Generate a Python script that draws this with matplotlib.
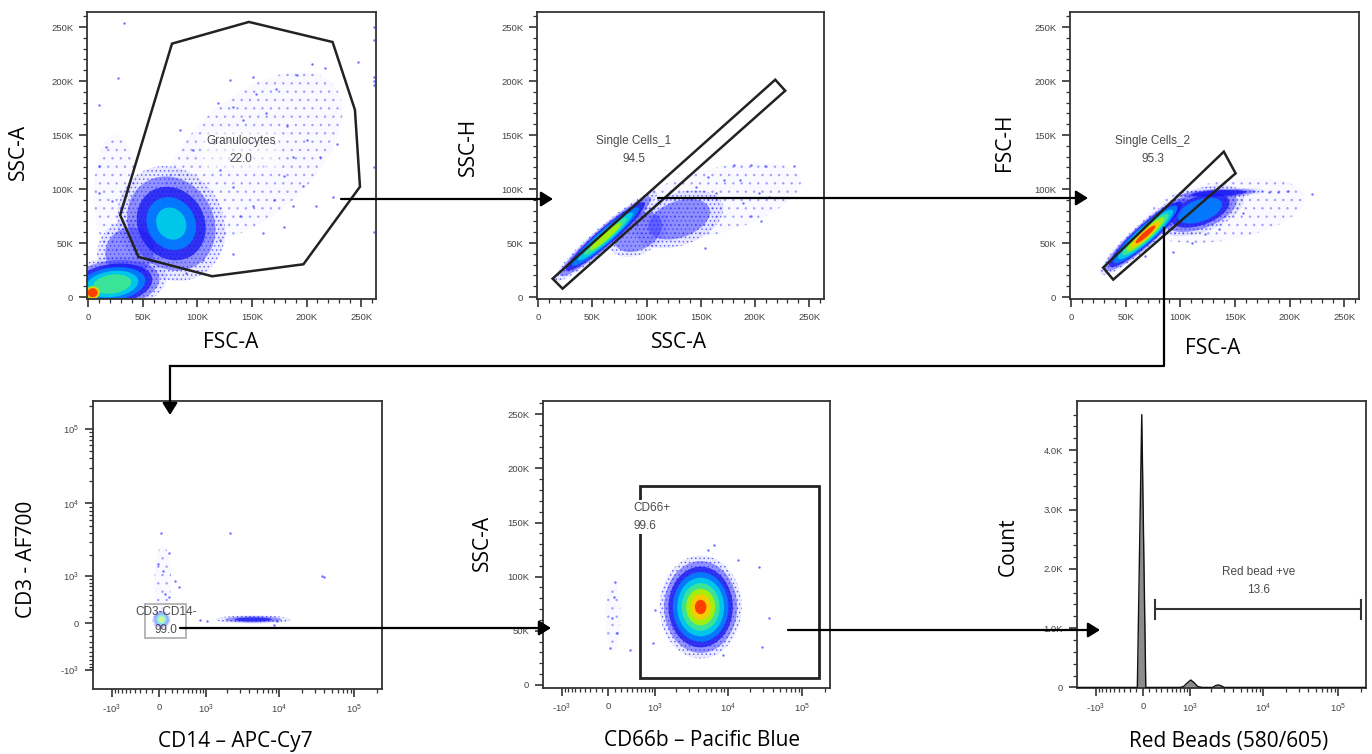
import numpy as np
import matplotlib
matplotlib.use("Agg")
import matplotlib.pyplot as plt
from matplotlib.patches import Ellipse, Polygon, FancyArrowPatch
from matplotlib.lines import Line2D

plt.rcParams['font.family'] = ['Liberation Sans', 'DejaVu Sans']
plt.rcParams['mathtext.default'] = 'regular'
plt.rcParams['hatch.linewidth'] = 0.6

W, H = 1372, 754

# ---------------- data ----------------
# panel 1 : FSC-A / SSC-A, granulocyte gate
gran_gate_x = [76.7e3, 147.2e3, 223.9e3, 244.4e3, 249e3, 197.2e3, 113.5e3, 46e3, 29.2e3]
gran_gate_y = [234.6e3, 254.7e3, 236.1e3, 173.3e3, 102.1e3, 30.3e3, 19.2e3, 37.1e3, 75.9e3]
# populations: x, y, width, height, angle, first level, last level, core size
p1_pops = [(38e3, 42e3, 62e3, 58e3, 45, 0, 1, 0.75),
           (76e3, 68e3, 95e3, 110e3, 30, 0, 4, 0.28),
           (22e3, 12e3, 100e3, 50e3, 8, 0, 5, 0.35),
           (4e3, 4e3, 26e3, 24e3, 0, 6, 8, 0.35)]
p1_sparse = [(150e3, 130e3, 200e3, 110e3, 42), (25e3, 95e3, 40e3, 110e3, 0)]
p1_dots_x = [32.7e3, 27e3, 10e3, 217e3, 247e3, 205e3, 191e3, 172e3, 154e3, 133e3, 119e3, 142e3,
             163e3, 182e3, 200e3, 212e3, 228e3, 188e3, 170e3, 148e3, 160e3, 179e3, 197e3, 209e3,
             224e3, 188e3, 170e3, 151e3, 133e3, 121e3, 115e3, 130e3, 139e3, 160e3, 179e3, 121e3,
             133e3, 90e3, 105e3, 10e3, 16e3, 22e3, 10e3, 84e3, 96e3, 151e3, 130e3,
             262e3, 262e3, 262e3, 262e3, 262e3, 262e3, 262e3]
p1_dots_y = [254e3, 203e3, 178e3, 212e3, 218e3, 216e3, 206e3, 193e3, 188e3, 176e3, 180e3, 164e3,
             170e3, 158e3, 145e3, 130e3, 142e3, 130e3, 143e3, 143e3, 121e3, 112e3, 103e3, 84e3,
             93e3, 84e3, 90e3, 84e3, 102e3, 118e3, 143e3, 127e3, 75e3, 59e3, 65e3, 53e3,
             40e3, 22e3, 34e3, 121e3, 139e3, 89e3, 96e3, 155e3, 136e3, 204e3, 201e3,
             250e3, 238e3, 204e3, 200e3, 196e3, 120e3, 60e3]

# panel 2 : SSC-A / SSC-H, single cells 1
sc1_gate_x = [13.2e3, 22.4e3, 227.9e3, 218.7e3]
sc1_gate_y = [17e3, 7.7e3, 191e3, 201.2e3]
p2_pops = [(92e3, 60e3, 60e3, 40e3, 30, 0, 1, 0.8),
           (130e3, 72e3, 85e3, 48e3, 20, 0, 1, 0.7),
           (62e3, 56e3, 125e3, 20e3, 41, 0, 6, 0.3)]
p2_sparse = [(160e3, 88e3, 170e3, 60e3, 15)]
p2_dots_x = [236e3, 196e3, 181e3, 209e3, 204e3, 213e3, 206e3, 196e3, 186e3, 171e3, 157e3, 154e3,
             146e3, 164e3, 189e3]
p2_dots_y = [121e3, 122e3, 122e3, 121e3, 96e3, 93e3, 70e3, 75e3, 108e3, 108e3, 111e3, 45e3,
             102e3, 96e3, 87e3]

# panel 3 : FSC-A / FSC-H, single cells 2
sc2_gate_x = [29.2e3, 38.4e3, 150.6e3, 139.8e3]
sc2_gate_y = [27.2e3, 16.1e3, 114.5e3, 134.6e3]
p3_pops = [(118e3, 80e3, 85e3, 40e3, 20, 0, 3, 0.5),
           (135e3, 96e3, 85e3, 9e3, 3, 0, 2, 0.6),
           (68e3, 58e3, 110e3, 22e3, 42, 0, 8, 0.22)]
p3_sparse = [(140e3, 80e3, 150e3, 55e3, 10)]
p3_dots_x = [221e3, 199e3, 189e3, 181e3, 123e3, 135e3, 93e3, 111e3, 68e3, 157e3]
p3_dots_y = [95e3, 98e3, 97e3, 97e3, 58e3, 63e3, 42e3, 50e3, 38e3, 78e3]

# panel 4 : CD14 / CD3 (biexponential)
cd3_gate_x = [-217, 463, 463, -217]
cd3_gate_y = [325, 325, -226, -226]
p4_pops = [(40, 60, 0.25, 0.25, 0, 0, 6, 0.3),
           (4.5e3, 60, 1.0, 0.11, 0, 0, 2, 0.5)]
p4_sparse = [(60, 900, 0.22, 0.9, 0)]
p4_dots_x = [35, 2200, 166, -13, 70, 260, 320, 100, 150, 37e3, 40e3, 1030, 9350, 8500, 820]
p4_dots_y = [3985, 4000, 2130, 1515, 1215, 860, 675, 513, 442, 1000, 990, 40, 40, -30, 50]

# panel 5 : CD66b / SSC-A
cd66_gate_x = [572, 167e3, 167e3, 572]
cd66_gate_y = [183.7e3, 183.7e3, 6.2e3, 6.2e3]
p5_pops = [(4.3e3, 72e3, 1.1, 95e3, 0, 0, 8, 0.14)]
p5_sparse = [(70, 64e3, 0.2, 65e3, 0)]
p5_dots_x = [107, 80, 56, 132, 29, 362, 930, 1000, 26.5e3, 13.6e3, 6.6e3, 5.4e3, 36e3, 29e3, 8.6e3]
p5_dots_y = [95.4e3, 81.5e3, 61.6e3, 47.7e3, 33.9e3, 32.3e3, 38.5e3, 69e3, 109e3, 115e3, 129e3,
             125e3, 62e3, 35e3, 27.7e3]

# panel 6 : red bead histogram
hist_x = [-1880, -400, -120, -85, -17, 45, 120, 400, 700, 800, 900, 1030, 1150, 1300, 1500,
          2100, 2300, 2500, 2750, 3000, 234000]
hist_y = [0, 0, 0, 0, 4600, 0, 0, 0, 0, 15, 70, 125, 80, 15, 0, 0, 30, 42, 25, 0, 0]
bead_gate = (187, 201e3, 1320)

lin_ticks = [0, 50e3, 100e3, 150e3, 200e3, 250e3]
lin_labels = ['0', '50K', '100K', '150K', '200K', '250K']
bi_ticks = [-1e3, 0, 1e3, 1e4, 1e5]
bi_labels = ['-$10^3$', '0', '$10^3$', '$10^4$', '$10^5$']
cnt_ticks = [0, 1000, 2000, 3000, 4000]
cnt_labels = ['0', '1.0K', '2.0K', '3.0K', '4.0K']

# pseudocolour density levels (speckle, sparse blue ... red)
LEVEL_COLORS = ['#5050ff', '#3a3aff', '#1212f0', '#0080ff', '#00d0e8', '#40e890',
                '#b0f000', '#ffc800', '#ff3000']
LEVEL_ALPHA = [0.12, 0.5, 0.75, 0.9, 0.9, 0.9, 0.9, 0.9, 0.9]

LIN = (-1200, 263700)
LINY = (-1850, 263900)
BI = (-1850, 234000)


def fwd(v):
    return np.arcsinh(np.asarray(v, dtype=float) / 500.0) / np.log(10)


def inv(u):
    return 500.0 * np.sinh(np.asarray(u, dtype=float) * np.log(10))


def make_ax(fig, box):
    x0, y0, x1, y1 = box
    return fig.add_axes([x0 / W, 1 - y1 / H, (x1 - x0) / W, (y1 - y0) / H])


def style(ax):
    for sp in ax.spines.values():
        sp.set_color('#333333')
        sp.set_linewidth(1.3)
    ax.tick_params(which='major', length=6, width=1.2, color='#333333',
                   labelsize=6.8, labelcolor='#444444', pad=4)
    ax.tick_params(which='minor', length=3, width=0.9, color='#333333')


def lin_axis(axis):
    axis.set_ticks(lin_ticks)
    axis.set_ticklabels(lin_labels)
    axis.set_ticks(np.arange(0, 262e3, 10e3), minor=True)


def bi_axis(axis):
    minors = [s * m for s in (-1, 1) for m in range(100, 1000, 100)]
    minors += [m * 10 ** k for k in (3, 4) for m in range(2, 10)] + [2e5]
    axis.set_ticks(bi_ticks)
    axis.set_ticklabels(bi_labels)
    axis.set_ticks(minors, minor=True)


def speckle(ax, cx, cy, w, h, ang, tr, dens, alpha, hcol):
    ax.add_patch(Ellipse((cx, cy), w, h, angle=ang, facecolor='#5050ff', alpha=alpha,
                         lw=0, transform=tr, zorder=1))
    ax.add_patch(Ellipse((cx, cy), w, h, angle=ang, facecolor='none', ec=hcol,
                         hatch=dens, lw=0, transform=tr, zorder=1))


def blobs(ax, pops):
    tr = ax.transLimits + ax.transAxes
    for x, y, w, h, ang, lo, hi, core in pops:
        cx, cy = ax.transScale.transform((x, y))
        scales = np.linspace(1, core, hi + 1)
        for lev in range(lo, hi + 1):
            s = scales[lev]
            if lev == 0:
                speckle(ax, cx, cy, w, h, ang, tr, '....', 0.12, '#3c3cffb0')
                continue
            ax.add_patch(Ellipse((cx, cy), w * s, h * s, angle=ang, facecolor=LEVEL_COLORS[lev],
                                 alpha=LEVEL_ALPHA[lev], lw=0, transform=tr, zorder=2))


def sparse(ax, clouds):
    tr = ax.transLimits + ax.transAxes
    for x, y, w, h, ang in clouds:
        cx, cy = ax.transScale.transform((x, y))
        speckle(ax, cx, cy, w, h, ang, tr, '..', 0.03, '#5a5aff70')


def dots(ax, xs, ys):
    ax.scatter(xs, ys, s=3, c='#3030ff', alpha=0.7, lw=0, zorder=3)


def labels(ax, xl, yl, xpos, ypos, box):
    x0, y0, x1, y1 = box
    ax.set_xlabel(xl, fontsize=15, family=['Open Sans', 'DejaVu Sans'], va='center', ha='center')
    ax.set_ylabel(yl, fontsize=15, family=['Open Sans', 'DejaVu Sans'], va='center', ha='center')
    ax.xaxis.set_label_coords((xpos[0] - x0) / (x1 - x0), (y1 - xpos[1]) / (y1 - y0))
    ax.yaxis.set_label_coords((ypos[0] - x0) / (x1 - x0), (y1 - ypos[1]) / (y1 - y0))


def gate_text(ax, x, y, txt, **kw):
    ax.text(x, y, txt, fontsize=8.5, color='#4a4a4a', ha='center', va='center',
            linespacing=1.7, zorder=7, **kw)


fig = plt.figure(figsize=(W / 100, H / 100), dpi=100)

# ---------- panel 1 ----------
b1 = (87, 12, 376, 299)
ax1 = make_ax(fig, b1)
ax1.set_xlim(*LIN)
ax1.set_ylim(*LINY)
sparse(ax1, p1_sparse)
blobs(ax1, p1_pops)
dots(ax1, p1_dots_x, p1_dots_y)
ax1.add_patch(Polygon(np.column_stack([gran_gate_x, gran_gate_y]), closed=True, fill=False,
                      ec='#222222', lw=1.8, zorder=5))
gate_text(ax1, 140e3, 136e3, 'Granulocytes\n22.0',
          bbox=dict(boxstyle='square,pad=0.3', fc='white', ec='none', alpha=0.6))
lin_axis(ax1.xaxis)
lin_axis(ax1.yaxis)
style(ax1)
labels(ax1, 'FSC-A', 'SSC-A', (231, 343), (18, 152), b1)

# ---------- panel 2 ----------
b2 = (537, 12, 824, 299)
ax2 = make_ax(fig, b2)
ax2.set_xlim(*LIN)
ax2.set_ylim(*LINY)
sparse(ax2, p2_sparse)
blobs(ax2, p2_pops)
dots(ax2, p2_dots_x, p2_dots_y)
ax2.add_patch(Polygon(np.column_stack([sc1_gate_x, sc1_gate_y]), closed=True, fill=False,
                      ec='#222222', lw=1.8, zorder=5))
gate_text(ax2, 88e3, 136e3, 'Single Cells_1\n94.5')
lin_axis(ax2.xaxis)
lin_axis(ax2.yaxis)
style(ax2)
labels(ax2, 'SSC-A', 'SSC-H', (679, 343), (468, 147), b2)

# ---------- panel 3 ----------
b3 = (1070, 12, 1359, 299)
ax3 = make_ax(fig, b3)
ax3.set_xlim(*LIN)
ax3.set_ylim(*LINY)
sparse(ax3, p3_sparse)
blobs(ax3, p3_pops)
dots(ax3, p3_dots_x, p3_dots_y)
ax3.add_patch(Polygon(np.column_stack([sc2_gate_x, sc2_gate_y]), closed=True, fill=False,
                      ec='#222222', lw=1.8, zorder=5))
gate_text(ax3, 74.5e3, 136e3, 'Single Cells_2\n95.3')
lin_axis(ax3.xaxis)
lin_axis(ax3.yaxis)
style(ax3)
labels(ax3, 'FSC-A', 'FSC-H', (1213, 348), (1005, 142), b3)

# ---------- panel 4 ----------
b4 = (93, 401, 382, 689)
ax4 = make_ax(fig, b4)
ax4.set_xscale('function', functions=(fwd, inv))
ax4.set_yscale('function', functions=(fwd, inv))
ax4.set_xlim(*BI)
ax4.set_ylim(*BI)
sparse(ax4, p4_sparse)
blobs(ax4, p4_pops)
dots(ax4, p4_dots_x, p4_dots_y)
ax4.add_patch(Polygon(np.column_stack([cd3_gate_x, cd3_gate_y]), closed=True, fc='white',
                      alpha=0.55, ec='none', zorder=4))
ax4.add_patch(Polygon(np.column_stack([cd3_gate_x, cd3_gate_y]), closed=True, fill=False,
                      ec='#aaaaaa', lw=1.2, zorder=5))
gate_text(ax4, 110, 40, 'CD3-CD14-\n99.0')
bi_axis(ax4.xaxis)
bi_axis(ax4.yaxis)
style(ax4)
labels(ax4, 'CD14 – APC-Cy7', 'CD3 - AF700', (235, 742), (27, 559), b4)

# ---------- panel 5 ----------
b5 = (543, 401, 830, 688)
ax5 = make_ax(fig, b5)
ax5.set_xscale('function', functions=(fwd, inv))
ax5.set_xlim(*BI)
ax5.set_ylim(-2800, 262200)
sparse(ax5, p5_sparse)
blobs(ax5, p5_pops)
dots(ax5, p5_dots_x, p5_dots_y)
ax5.add_patch(Polygon(np.column_stack([cd66_gate_x, cd66_gate_y]), closed=True, fill=False,
                      ec='#222222', lw=2.0, zorder=5))
ax5.text(430, 155e3, 'CD66+\n99.6', fontsize=8.5, color='#4a4a4a', ha='left', va='center',
         linespacing=1.7, zorder=7,
         bbox=dict(boxstyle='square,pad=0.15', fc='white', ec='none'))
bi_axis(ax5.xaxis)
lin_axis(ax5.yaxis)
style(ax5)
labels(ax5, 'CD66b – Pacific Blue', 'SSC-A', (702, 741), (482, 543), b5)

# ---------- panel 6 ----------
b6 = (1077, 401, 1366, 688)
ax6 = make_ax(fig, b6)
ax6.set_xscale('function', functions=(fwd, inv))
ax6.set_xlim(*BI)
ax6.set_ylim(-10, 4830)
ax6.fill_between(hist_x, hist_y, 0, color='#8c8c8c', lw=0, zorder=2)
ax6.plot(hist_x, hist_y, color='#111111', lw=1.0, zorder=3)
gx0, gx1, gy = bead_gate
ax6.plot([gx0, gx1], [gy, gy], color='#333333', lw=1.5, zorder=4)
ax6.plot([gx0, gx0], [gy - 160, gy + 160], color='#333333', lw=1.5, zorder=4)
ax6.plot([gx1, gx1], [gy - 160, gy + 160], color='#333333', lw=1.5, zorder=4)
gate_text(ax6, 8.7e3, 1800, 'Red bead +ve\n13.6')
bi_axis(ax6.xaxis)
ax6.yaxis.set_ticks(cnt_ticks)
ax6.yaxis.set_ticklabels(cnt_labels)
ax6.yaxis.set_ticks(np.arange(0, 4800, 200), minor=True)
style(ax6)
labels(ax6, 'Red Beads (580/605)', 'Count', (1229, 741), (1008, 547), b6)

# ---------- gating arrows ----------
def fp(px, py):
    return (px / W, 1 - py / H)


def arrow(p0, p1):
    fig.add_artist(FancyArrowPatch(fp(*p0), fp(*p1), transform=fig.transFigure,
                                   arrowstyle='-|>,head_length=0.4,head_width=0.25',
                                   mutation_scale=18, color='black', lw=1.6,
                                   shrinkA=0, shrinkB=0, zorder=10))


arrow((341, 199), (553, 199))
arrow((658, 198), (1088, 198))
fig.add_artist(Line2D([1164 / W, 1164 / W, 170 / W], [1 - 228 / H, 1 - 366 / H, 1 - 366 / H],
                      transform=fig.transFigure, color='black', lw=1.6, zorder=10))
arrow((170, 366), (170, 415))
arrow((180, 628), (551, 628))
arrow((788, 630), (1100, 630))

fig.savefig('out.png', dpi=100)
